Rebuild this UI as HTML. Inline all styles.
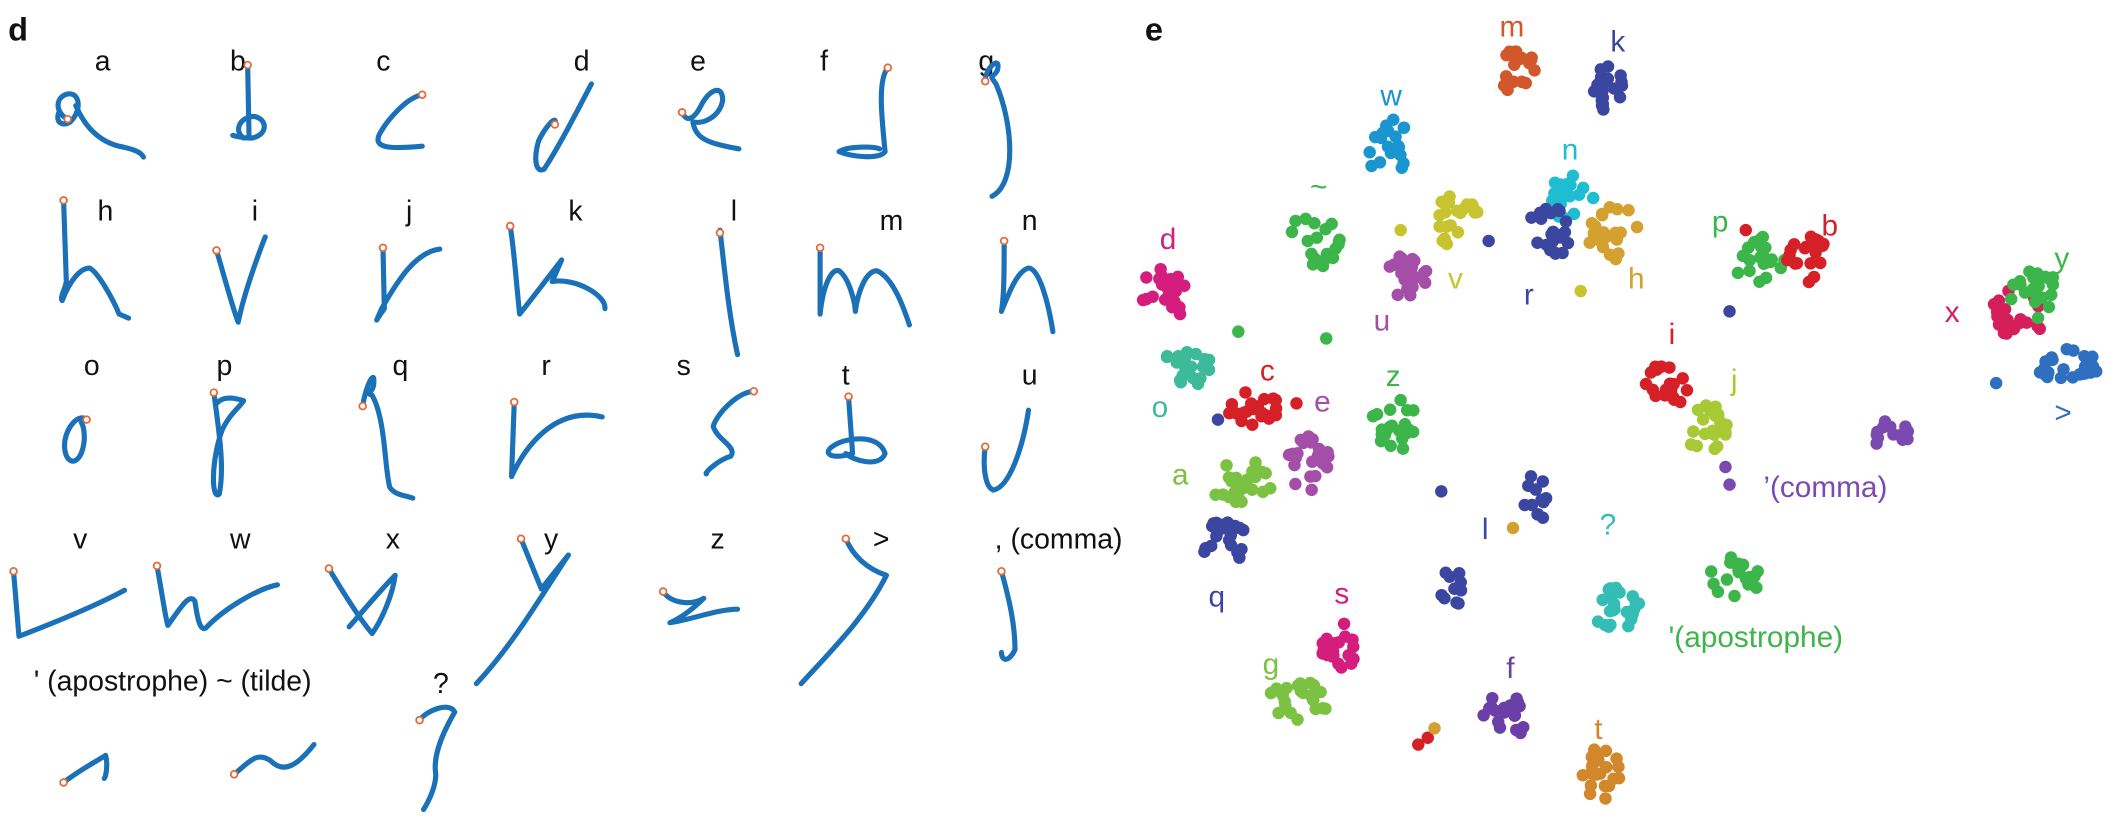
<!DOCTYPE html>
<html><head><meta charset="utf-8"><style>
html,body{margin:0;padding:0;background:#fff;width:2122px;height:819px;overflow:hidden}
svg{display:block}
text{font-family:"Liberation Sans",Arial,sans-serif}
</style></head><body>
<svg id="s" width="2122" height="819" viewBox="0 0 1568 605" preserveAspectRatio="none" xmlns="http://www.w3.org/2000/svg">
<g font-size="21" fill="#111">
<text x="6" y="30" font-size="24" font-weight="bold">d</text>
<text x="70" y="52">a</text><text x="170" y="52">b</text><text x="278" y="52">c</text><text x="424" y="52">d</text><text x="510" y="52">e</text><text x="606" y="52">f</text><text x="723" y="52">g</text>
<text x="72" y="163">h</text><text x="186" y="163">i</text><text x="300" y="163">j</text><text x="420" y="163">k</text><text x="540" y="163">l</text><text x="650" y="170">m</text><text x="755" y="170">n</text>
<text x="62" y="277">o</text><text x="160" y="277">p</text><text x="290" y="277">q</text><text x="400" y="277">r</text><text x="500" y="277">s</text><text x="622" y="284">t</text><text x="755" y="284">u</text>
<text x="54" y="405">v</text><text x="170" y="405">w</text><text x="285" y="405">x</text><text x="402" y="405">y</text><text x="525" y="405">z</text><text x="645" y="405">&gt;</text><text x="735" y="405">, (comma)</text>
<text x="25" y="510">' (apostrophe) ~ (tilde)</text><text x="320" y="512">?</text>
</g>
<g fill="none" stroke="#1b71b8" stroke-width="3.8" stroke-linecap="round" stroke-linejoin="round">
<path d="M50,88 C42,84 40,74 48,70 C58,66 62,80 52,90 C46,94 40,90 44,82 M56,78 C62,92 72,104 88,108 C98,110 104,112 106,116"/>
<path d="M183,48 L184,100 M180,102 C172,96 178,86 188,86 C198,88 198,100 186,102 C178,102 172,100 172,100"/>
<path d="M312,70 C300,72 285,90 280,100 C276,110 290,110 312,108"/>
<path d="M437,62 C425,85 412,110 402,125 C396,128 394,118 398,104 C404,92 412,84 410,92"/>
<path d="M504,83 C508,92 514,86 518,78 C524,66 534,62 534,74 C532,86 520,92 512,90 C514,104 526,106 546,110"/>
<path d="M656,50 C648,60 652,90 654,112 C650,118 630,116 620,112 C626,108 645,108 650,110"/>
<path d="M728,60 C728,50 740,40 737,52 C734,58 730,54 736,62 C748,90 752,135 733,145"/>
<path d="M47,148 L49,208 C48,214 44,220 46,222 C52,206 60,198 66,198 C72,200 84,222 88,232 L95,235"/>
<path d="M160,185 C166,205 172,228 176,238 C180,218 188,196 194,180 L196,175"/>
<path d="M283,183 L284,228 C278,236 276,242 282,228 C295,205 308,186 325,184"/>
<path d="M377,167 C380,185 382,215 384,232 C392,222 405,205 415,192 L408,208 C425,205 448,218 447,228"/>
<path d="M532,170 C535,195 538,230 545,262"/>
<path d="M606,183 L606,232 C608,212 614,198 620,200 C628,206 632,225 632,230 C634,215 640,200 648,200 C660,205 668,228 672,240"/>
<path d="M742,178 C742,200 742,218 740,230 C746,215 752,200 760,198 C768,198 775,225 778,245"/>
<path d="M64,310 C58,305 50,315 48,325 C46,340 55,346 60,335 C64,325 62,315 60,312"/>
<path d="M158,290 C162,320 166,345 162,365 C156,370 156,340 164,318 C170,305 178,300 180,296 C174,294 165,292 160,298"/>
<path d="M268,300 C270,285 278,270 276,285 C274,292 270,290 275,292 C285,310 284,345 288,360 C292,366 300,366 305,368"/>
<path d="M380,297 L378,352 C388,330 410,300 445,308"/>
<path d="M557,289 C545,290 530,305 527,315 C530,325 545,330 540,337 C530,340 520,350 522,350"/>
<path d="M627,293 L630,335 C615,340 605,335 618,328 C630,322 650,322 654,335 C650,346 630,340 625,335"/>
<path d="M728,330 C726,345 728,360 734,362 C746,360 756,330 760,303"/>
<path d="M10,422 L14,470 C40,460 70,448 92,436"/>
<path d="M116,418 C120,440 122,455 124,462 C134,448 140,438 144,444 C146,458 148,466 152,464 C165,450 190,435 205,432"/>
<path d="M243,420 C255,440 268,460 275,468 C282,458 290,440 292,425 C282,435 265,455 258,463"/>
<path d="M385,398 L400,435 L420,410 M420,410 C400,440 380,475 352,505"/>
<path d="M490,437 C495,445 510,448 520,442 C510,452 500,458 495,460 C510,458 530,450 545,450"/>
<path d="M625,398 C630,410 640,420 655,425 C640,455 615,480 592,505"/>
<path d="M740,422 C745,440 750,460 750,480 C745,490 740,488 740,482"/>
<path d="M47,578 C60,568 72,562 78,558 C80,565 78,575 77,575"/>
<path d="M173,572 C185,562 190,555 200,562 C210,572 220,565 232,550"/>
<path d="M310,532 C315,525 332,518 336,526 C325,545 320,560 322,572 C322,580 318,590 313,598"/>
</g>
<g fill="#fff" stroke="#e2693a" stroke-width="1.3">
<circle cx="50" cy="88" r="2.5"/><circle cx="183" cy="48" r="2.5"/><circle cx="312" cy="70" r="2.5"/><circle cx="410" cy="92" r="2.5"/><circle cx="504" cy="83" r="2.5"/><circle cx="656" cy="50" r="2.5"/><circle cx="728" cy="60" r="2.5"/>
<circle cx="47" cy="148" r="2.5"/><circle cx="160" cy="185" r="2.5"/><circle cx="283" cy="183" r="2.5"/><circle cx="377" cy="167" r="2.5"/><circle cx="532" cy="172" r="2.5"/><circle cx="606" cy="183" r="2.5"/><circle cx="742" cy="178" r="2.5"/>
<circle cx="64" cy="310" r="2.5"/><circle cx="158" cy="290" r="2.5"/><circle cx="268" cy="300" r="2.5"/><circle cx="380" cy="297" r="2.5"/><circle cx="557" cy="289" r="2.5"/><circle cx="627" cy="293" r="2.5"/><circle cx="728" cy="330" r="2.5"/>
<circle cx="10" cy="422" r="2.5"/><circle cx="116" cy="418" r="2.5"/><circle cx="243" cy="420" r="2.5"/><circle cx="385" cy="398" r="2.5"/><circle cx="490" cy="437" r="2.5"/><circle cx="625" cy="398" r="2.5"/><circle cx="740" cy="422" r="2.5"/>
<circle cx="47" cy="578" r="2.5"/><circle cx="173" cy="572" r="2.5"/><circle cx="310" cy="532" r="2.5"/>
</g>
<text x="846" y="30" font-size="24" font-weight="bold" fill="#111">e</text>
<g id="dots"></g>
<g font-size="22">
<text x="1108" y="27" fill="#d2572a">m</text><text x="1190" y="38" fill="#3a46a0">k</text><text x="1020" y="78" fill="#1a95d0">w</text>
<text x="968" y="145" fill="#3cb54a">~</text><text x="1154" y="118" fill="#1fbcd2">n</text><text x="1126" y="225" fill="#3a46a0">r</text>
<text x="1203" y="213" fill="#d4a030">h</text><text x="1070" y="213" fill="#c8c430">v</text><text x="1015" y="244" fill="#a54ea8">u</text>
<text x="857" y="184" fill="#d41d7d">d</text><text x="1265" y="171" fill="#3cb54a">p</text><text x="1346" y="174" fill="#d62027">b</text>
<text x="1437" y="238" fill="#d51f5a">x</text><text x="1518" y="198" fill="#3cb54a">y</text><text x="1518" y="312" fill="#2f6fc0">&gt;</text>
<text x="851" y="308" fill="#3dba9a">o</text><text x="931" y="281" fill="#d62027">c</text><text x="971" y="304" fill="#a54ea8">e</text>
<text x="1024" y="285" fill="#3cb54a">z</text><text x="1233" y="254" fill="#d62027">i</text><text x="1279" y="288" fill="#a6c935">j</text>
<text x="1303" y="367" fill="#7b4ab0">’(comma)</text><text x="866" y="358" fill="#7cc242">a</text><text x="893" y="448" fill="#3a46a0">q</text>
<text x="1095" y="398" fill="#3a46a0">l</text><text x="1182" y="395" fill="#33bdb4">?</text><text x="1233" y="478" fill="#3cb54a">'(apostrophe)</text>
<text x="986" y="446" fill="#d41d7d">s</text><text x="933" y="498" fill="#7cc242">g</text><text x="1113" y="501" fill="#6a40a8">f</text><text x="1178" y="546" fill="#d2872a">t</text>
</g>
</svg>
<script>
(function(){
var seed=7;function r(){seed=(seed*16807)%2147483647;return seed/2147483647;}
var K=1.45;
var C=[[1120,52,"#d2572a",20,10,13],[1190,68,"#3a46a0",18,10,14],[1025,108,"#1a95d0",20,12,15],[970,178,"#3cb54a",20,14,14],
[1160,148,"#1fbcd2",18,12,13],[1145,172,"#3a46a0",22,12,13],[1192,172,"#d4a030",20,14,14],[1075,162,"#c8c430",20,12,14],
[1040,205,"#a54ea8",22,12,12],[860,218,"#d41d7d",22,12,14],[1300,192,"#3cb54a",22,14,12],[1337,192,"#d62027",20,12,12],
[1490,232,"#d51f5a",22,16,14],[1505,220,"#3cb54a",22,14,14],[1528,272,"#2f6fc0",24,16,10],[875,272,"#3dba9a",22,14,10],
[928,302,"#d62027",22,14,10],[968,342,"#a54ea8",22,12,14],[1030,313,"#3cb54a",22,12,14],[1230,285,"#d62027",20,12,12],
[1262,318,"#a6c935",22,12,14],[1398,322,"#7b4ab0",16,10,8],[918,357,"#7cc242",24,16,12],[905,400,"#3a46a0",20,12,12],
[1135,368,"#3a46a0",12,6,14],[1075,432,"#3a46a0",10,8,10],[1195,450,"#33bdb4",22,12,12],[1280,428,"#3cb54a",18,14,12],
[990,475,"#d41d7d",22,10,14],[960,518,"#7cc242",22,16,10],[1113,528,"#6a40a8",20,12,12],[1183,572,"#d2872a",20,10,14]];
var g=document.getElementById("dots"),NS="http://www.w3.org/2000/svg";
function dot(x,y,c){var e=document.createElementNS(NS,"circle");e.setAttribute("cx",x);e.setAttribute("cy",y);e.setAttribute("r",4.6);e.setAttribute("fill",c);g.appendChild(e);}
C.forEach(function(c){for(var i=0;i<c[3];i++){var a=r()*6.283,d=Math.sqrt(r());dot(c[0]+Math.cos(a)*d*c[4]*K,c[1]+Math.sin(a)*d*c[5]*K,c[2]);}});
[[1035,170,"#c8c430"],[980,250,"#3cb54a"],[915,245,"#3cb54a"],[1065,363,"#3a46a0"],[1118,390,"#d4a030"],[1048,550,"#d62027"],[1055,545,"#d62027"],[1060,538,"#d4a030"],[1275,345,"#7b4ab0"],[1278,358,"#7b4ab0"],[1278,230,"#3a46a0"],[1168,215,"#c8c430"],[958,298,"#d62027"],[900,310,"#3a46a0"],[1475,283,"#2f6fc0"],[1290,170,"#d62027"],[1100,178,"#3a46a0"]].forEach(function(p){dot(p[0],p[1],p[2]);});
})();
</script>
</body></html>
